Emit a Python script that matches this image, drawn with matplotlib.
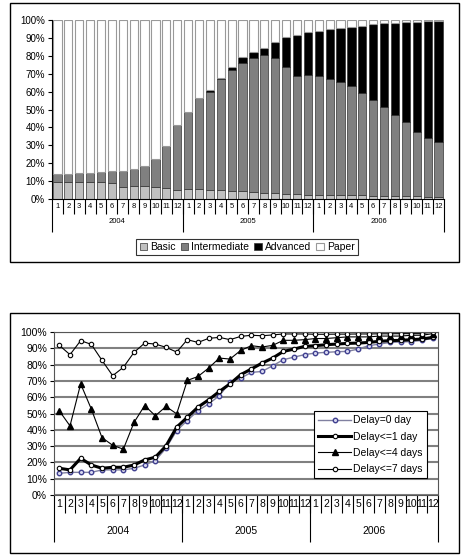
import matplotlib.pyplot as plt
import numpy as np
from matplotlib.patches import Rectangle
from matplotlib.ticker import FixedLocator, PercentFormatter

plt.rcParams['font.family'] = ['Liberation Sans', 'DejaVu Sans']

# 36 months, 2004-2006
years = ['2004', '2005', '2006']
months = [str(m) for m in range(1, 13)] * 3

# top chart: share by type (percent)
basic = [9.7, 9.7, 9.7, 9.7, 9.7, 8.8, 6.9, 7.4, 7.4, 6.7, 6.3, 5.0,
         5.6, 5.6, 5.0, 4.8, 4.5, 4.3, 3.7, 3.5, 3.2, 2.8, 2.8, 2.4,
         2.4, 2.3, 2.2, 2.1, 2.0, 1.9, 1.7, 1.6, 1.5, 1.4, 1.3, 1.2]
inter_top = [13.8, 13.8, 14.3, 14.3, 15.3, 15.6, 15.6, 16.6, 18.6, 22.2, 29.6, 41.3,
             48.8, 56.2, 59.6, 66.9, 71.9, 75.8, 79.0, 80.3, 78.6, 73.6, 68.7, 69.3,
             68.7, 66.9, 65.5, 63.1, 59.4, 55.3, 51.2, 46.9, 42.8, 37.2, 34.3, 32.0]
total = [13.8, 13.8, 14.3, 14.3, 15.3, 15.6, 15.6, 16.6, 18.6, 22.2, 29.6, 41.3,
         48.8, 56.2, 60.7, 67.8, 73.9, 79.1, 81.9, 84.5, 87.7, 90.3, 91.4, 93.1,
         93.9, 94.8, 95.3, 95.9, 96.5, 97.6, 98.1, 98.5, 98.7, 98.9, 99.3, 99.3]
intermediate = [t - b for t, b in zip(inter_top, basic)]
advanced = [t - i for t, i in zip(total, inter_top)]
paper = [100 - t for t in total]

# bottom chart: share declared within delay (percent)
delay0 = [13.3, 13.9, 13.9, 13.9, 15.4, 15.4, 15.4, 16.4, 18.4, 21.1, 28.7, 39.5,
          45.7, 51.8, 55.9, 60.9, 69.1, 71.7, 75.2, 75.8, 79.3, 83.0, 84.6, 86.1,
          87.1, 87.5, 87.9, 88.1, 89.5, 91.6, 92.6, 93.6, 93.9, 94.1, 94.9, 96.1]
delay1 = [16.4, 15.4, 22.5, 18.4, 16.4, 17.0, 17.0, 18.4, 21.5, 23.2, 30.1, 41.6,
          47.7, 53.9, 58.4, 63.5, 68.2, 73.8, 77.3, 80.9, 84.0, 88.1, 89.5, 91.2,
          91.6, 92.2, 92.6, 93.0, 93.2, 93.6, 94.3, 94.7, 94.9, 95.3, 95.7, 96.7]
delay4 = [51.6, 42.4, 68.2, 52.7, 35.2, 30.5, 28.1, 44.5, 54.9, 48.6, 54.3, 49.8,
          70.3, 72.7, 77.9, 84.0, 83.4, 88.7, 91.6, 90.8, 91.8, 94.9, 94.9, 95.3,
          96.0, 96.0, 96.5, 97.0, 97.0, 97.0, 97.5, 97.5, 97.5, 98.0, 98.0, 99.0]
delay7 = [91.8, 86.1, 94.7, 92.4, 82.6, 73.2, 78.3, 87.5, 93.2, 92.6, 90.6, 87.7,
          95.3, 93.6, 96.1, 96.7, 95.3, 97.3, 98.0, 97.7, 98.2, 98.8, 98.8, 98.8,
          98.6, 98.6, 98.7, 98.7, 98.8, 98.8, 98.9, 98.9, 99.0, 99.0, 99.0, 100.0]


def category_axis(ax, month_len, year_len, fs_m, fs_y, pad_y):
    n = len(months)
    ax.set_xlim(-0.5, n - 0.5)
    ax.set_xticks(np.arange(n))
    ax.set_xticklabels(months, fontsize=fs_m)
    ax.tick_params(axis='x', which='major', length=0, pad=3)
    ax.xaxis.set_minor_locator(FixedLocator(np.arange(0.5, n - 1, 1)))
    ax.tick_params(axis='x', which='minor', length=month_len, width=0.8, color='black')
    sec = ax.secondary_xaxis('bottom')
    sec.set_xticks(np.arange(-0.5, n, 12))
    sec.set_xticklabels([])
    sec.tick_params(axis='x', which='major', length=year_len, width=0.8)
    sec.xaxis.set_minor_locator(FixedLocator(np.arange(5.5, n, 12)))
    sec.xaxis.set_minor_formatter(plt.FixedFormatter(years))
    sec.tick_params(axis='x', which='minor', length=0, pad=pad_y, labelsize=fs_y)
    sec.spines['bottom'].set_visible(False)


fig = plt.figure(figsize=(4.64, 5.56), dpi=100)

# frames around each chart
for (x0, y0, x1, y1) in [(10, 3, 459, 262), (10, 313, 459, 553)]:
    fig.patches.append(Rectangle((x0 / 464, 1 - y1 / 556), (x1 - x0) / 464, (y1 - y0) / 556,
                                 transform=fig.transFigure, fill=False,
                                 edgecolor='black', linewidth=1.0))

# ---- top chart: stacked bars
ax1 = fig.add_axes([52 / 464, 1 - 199 / 556, 392 / 464, 179 / 556])
x = np.arange(len(months))
w = 0.75
ax1.bar(x, basic, w, color='#c0c0c0', edgecolor='#333333', linewidth=0.5, label='Basic')
ax1.bar(x, intermediate, w, bottom=basic, color='#808080', edgecolor='#333333',
        linewidth=0.5, label='Intermediate')
ax1.bar(x, advanced, w, bottom=inter_top, color='black', edgecolor='#333333',
        linewidth=0.5, label='Advanced')
ax1.bar(x, paper, w, bottom=total, color='white', edgecolor='#999999',
        linewidth=0.8, label='Paper')
ax1.set_ylim(0, 100)
ax1.set_yticks(np.arange(0, 101, 10))
ax1.yaxis.set_major_formatter(PercentFormatter(decimals=0))
ax1.tick_params(axis='y', labelsize=7, length=3, pad=2)
for s in ['top', 'right']:
    ax1.spines[s].set_visible(False)
category_axis(ax1, 11, 24, 5.5, 5.5, 14)
leg1 = fig.legend(*ax1.get_legend_handles_labels(), loc='center',
                  bbox_to_anchor=(247 / 464, 1 - 247 / 556), ncol=4, fontsize=7.5,
                  handlelength=0.7, handleheight=0.7, handletextpad=0.3,
                  columnspacing=0.5, borderpad=0.3, fancybox=False, edgecolor='black')
leg1.get_frame().set_linewidth(0.8)

# ---- bottom chart: lines
ax2 = fig.add_axes([54 / 464, 1 - 495 / 556, 384 / 464, 163 / 556])
ax2.plot(x, delay0, '-o', color='#8080a0', linewidth=1.0, markersize=3.2,
         markerfacecolor='#d8d8f0', markeredgecolor='#404090', markeredgewidth=1.0,
         label='Delay=0 day')
ax2.plot(x, delay1, '-o', color='black', linewidth=2.2, markersize=3.2,
         markerfacecolor='white', markeredgecolor='black', markeredgewidth=0.8,
         label='Delay<=1 day')
ax2.plot(x, delay4, '-^', color='black', linewidth=0.8, markersize=3.8,
         markerfacecolor='black', label='Delay<=4 days')
ax2.plot(x, delay7, '-o', color='black', linewidth=0.8, markersize=3.2,
         markerfacecolor='white', markeredgecolor='black', markeredgewidth=0.8,
         label='Delay<=7 days')
ax2.set_ylim(0, 100)
ax2.set_yticks(np.arange(0, 101, 10))
ax2.yaxis.set_major_formatter(PercentFormatter(decimals=0))
ax2.tick_params(axis='y', labelsize=7.5, length=3, pad=2)
ax2.grid(axis='y', color='#808080', linewidth=1.5)
ax2.set_axisbelow(True)
for s in ax2.spines.values():
    s.set_color('#555555')
category_axis(ax2, 13, 34, 7.5, 7.5, 22)
leg2 = ax2.legend(loc='lower right', bbox_to_anchor=(0.985, 0.07), fontsize=7.5,
                  handlelength=3.2, handletextpad=0.2, borderpad=0.4, labelspacing=0.6,
                  fancybox=False, edgecolor='black', framealpha=1)
leg2.get_frame().set_linewidth(0.8)

fig.savefig('out.png', dpi=100)
